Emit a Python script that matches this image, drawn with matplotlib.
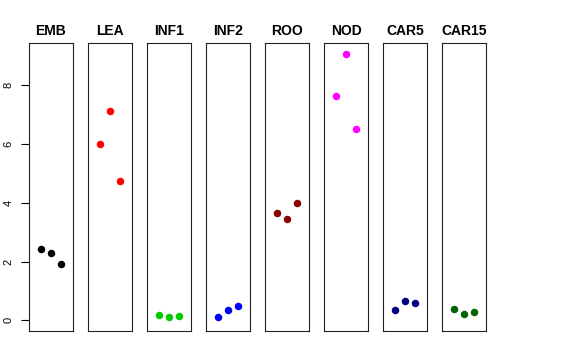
import matplotlib
matplotlib.use("Agg")
import matplotlib.pyplot as plt

plt.rcParams['font.family'] = ['Liberation Sans', 'DejaVu Sans']

groups = ["EMB", "LEA", "INF1", "INF2", "ROO", "NOD", "CAR5", "CAR15"]
colors = ["black", "red", "#00CD00", "blue", "#8B0000", "magenta", "#000080", "#006400"]
reps = [1, 2, 3]
values = [
    [2.42, 2.29, 1.91],
    [5.99, 7.11, 4.75],
    [0.20, 0.11, 0.14],
    [0.10, 0.37, 0.48],
    [3.65, 3.43, 3.97],
    [7.63, 9.05, 6.51],
    [0.35, 0.65, 0.59],
    [0.40, 0.21, 0.28],
]

fig = plt.figure(figsize=(5.76, 3.6), dpi=100)
W, H = 576, 360
left0, step, pw = 29, 59, 44
top, bottom = 43, 331

for i, (g, c, v) in enumerate(zip(groups, colors, values)):
    ax = fig.add_axes([(left0 + i * step) / W, 1 - bottom / H, pw / W, (bottom - top) / H])
    ax.plot(reps, v, 'o', color=c, markersize=5.4, markeredgewidth=0)
    ax.set_xlim(-0.1, 4.1)
    ax.set_ylim(-0.36, 9.42)
    ax.set_xticks([])
    ax.set_title(g, fontsize=10, fontweight='bold', pad=6)
    for s in ax.spines.values():
        s.set_linewidth(0.8)
        s.set_color('#222222')
    if i == 0:
        ax.set_yticks([0, 2, 4, 6, 8])
        ax.tick_params(axis='y', length=5.5, width=0.8, labelsize=8, pad=5.5)
        for lab in ax.get_yticklabels():
            lab.set_rotation(90)
            lab.set_va('center')
    else:
        ax.set_yticks([])

fig.savefig("out.png", dpi=100)
